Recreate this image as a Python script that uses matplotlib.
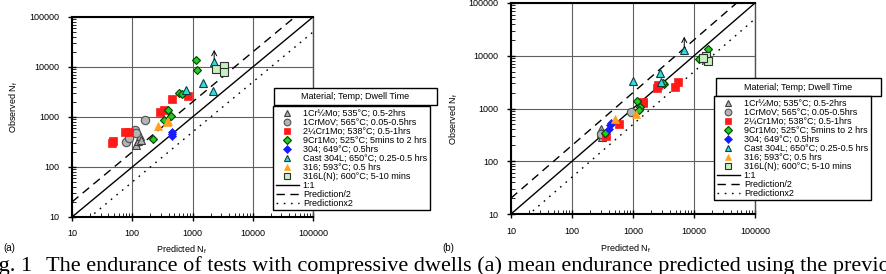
import numpy as np
import matplotlib
matplotlib.use("Agg")
import matplotlib.pyplot as plt
import matplotlib.ticker as ticker
from matplotlib.patches import Rectangle

plt.rcParams['font.family'] = ['Liberation Sans', 'DejaVu Sans']

# series labels / styles order
labels = ["1Cr\u00bdMo; 535\u00b0C; 0.5-2hrs",
          "1CrMoV; 565\u00b0C; 0.05-0.5hrs",
          "2\u00bcCr1Mo; 538\u00b0C; 0.5-1hrs",
          "9Cr1Mo; 525\u00b0C; 5mins to 2 hrs",
          "304; 649\u00b0C; 0.5hrs",
          "Cast 304L; 650\u00b0C; 0.25-0.5 hrs",
          "316; 593\u00b0C; 0.5 hrs",
          "316L(N); 600\u00b0C; 5-10 mins"]

# (a) mean endurance: predicted, observed
a_crmo_x = [115, 125, 132, 140]
a_crmo_y = [280, 335, 410, 340]
a_crmov_x = [78, 90, 112, 115, 162]
a_crmov_y = [320, 375, 560, 480, 860]
a_2cr_x = [46, 48, 76, 88, 290, 335, 455, 850]
a_2cr_y = [300, 330, 510, 490, 1260, 1400, 2330, 2600]
a_9cr_x = [223, 339, 385, 432, 586, 657, 1135, 1194]
a_9cr_y = [363, 885, 1400, 1063, 3020, 2884, 13600, 8850]
a_304_x = [450, 460, 455]
a_304_y = [490, 415, 450]
a_c304_x = [795, 1503, 2203, 2290]
a_c304_y = [3414, 4786, 3262, 12600]
a_316_x = [263, 380, 395]
a_316_y = [650, 794, 830]
a_316ln_x = [2500, 3300, 3300]
a_316ln_y = [9300, 10300, 8000]
a_arrow = (2290, 12600, 22000)

# (b)
b_crmo_x = [298, 307, 300]
b_crmo_y = [413, 288, 350]
b_crmov_x = [298, 927]
b_crmov_y = [333, 851]
b_2cr_x = [361, 597, 1440, 1480, 2470, 2570, 4890, 5400]
b_2cr_y = [296, 514, 1320, 1250, 2455, 2750, 2530, 3230]
b_9cr_x = [352, 1178, 1286, 1260, 3266, 3120, 12200, 17200]
b_9cr_y = [343, 1374, 1060, 920, 2917, 3000, 8650, 13700]
b_304_x = [415, 440, 400]
b_304_y = [480, 540, 413]
b_c304_x = [1000, 2805, 2880, 6920]
b_c304_y = [3375, 4690, 3220, 12600]
b_316_x = [507, 1120]
b_316_y = [638, 794]
b_316ln_x = [15700, 16700, 14200]
b_316ln_y = [10000, 7800, 9000]
b_arrow = (6920, 12600, 23000)

styles = [dict(marker='^', ms=5.5, mfc='#b0b0b0', mec='#404040', mew=0.8),
          dict(marker='o', ms=6, mfc='#b4b4b4', mec='#505050', mew=0.8),
          dict(marker='s', ms=5.5, mfc='#ff1a1a', mec='#ff1a1a', mew=0.5),
          dict(marker='D', ms=4.5, mfc='#22cc22', mec='#004000', mew=0.8),
          dict(marker='D', ms=4.5, mfc='#1a1aff', mec='#1a1aff', mew=0.5),
          dict(marker='^', ms=6, mfc='#33dddd', mec='#104040', mew=0.8),
          dict(marker='^', ms=6, mfc='#ffa020', mec='#ffa020', mew=0.5),
          dict(marker='s', ms=6, mfc='#c8f0c0', mec='#303030', mew=0.8)]

fig = plt.figure(figsize=(8.86, 2.74), dpi=100)


def panel(rect, series, arrow, lab, leg_title_box, leg_anchor, xlabel_xy, ylabel_xy):
    ax = fig.add_axes(rect)
    ax.set_xscale('log')
    ax.set_yscale('log')
    ax.set_xlim(10, 100000)
    ax.set_ylim(10, 100000)
    ax.grid(True, which='major', color='#606060', lw=0.8)
    ax.set_axisbelow(True)
    line = np.array([10, 100000])
    ax.plot(line, line, color='black', lw=1.0, label='1:1')
    ax.plot(line, line * 2, color='black', lw=1.0, dashes=(6, 4), label='Prediction/2')
    ax.plot(line, line / 2, color='black', lw=1.0, dashes=(1.2, 4), label='Predictionx2')
    handles = []
    for (xs, ys), lbl, st in zip(series, labels, styles):
        h, = ax.plot(xs, ys, ls='none', label=lbl, zorder=3, **st)
        handles.append(h)
    # run-out arrow
    ax.annotate('', xy=(arrow[0], arrow[2]), xytext=(arrow[0], arrow[1] * 1.12),
                arrowprops=dict(arrowstyle='->,head_length=0.35,head_width=0.18',
                                color='black', lw=0.7, shrinkA=0, shrinkB=0))
    fmt = ticker.FuncFormatter(lambda v, p: '%d' % v)
    ax.xaxis.set_major_formatter(fmt)
    ax.yaxis.set_major_formatter(fmt)
    ax.xaxis.set_minor_formatter(ticker.NullFormatter())
    ax.yaxis.set_minor_formatter(ticker.NullFormatter())
    ax.tick_params(which='major', direction='inout', length=6, width=1.0,
                   labelsize=6.5, pad=6)
    ax.tick_params(which='minor', direction='in', length=3, width=0.6)
    for s in ['left', 'bottom', 'top']:
        ax.spines[s].set_linewidth(1.5)
    ax.spines['right'].set_linewidth(1.0)
    ax.spines['right'].set_color('#505050')
    ax.set_xlabel('Predicted N$_\\mathregular{f}$', fontsize=6.5)
    ax.set_ylabel('Observed N$_\\mathregular{f}$', fontsize=6.5)
    ax.xaxis.set_label_coords(*xlabel_xy)
    ax.yaxis.set_label_coords(*ylabel_xy)
    lines = ax.get_lines()[:3]
    leg = fig.legend(handles + lines, [h.get_label() for h in handles + lines],
                     loc='upper left', bbox_to_anchor=leg_anchor, fontsize=6.5,
                     frameon=True, fancybox=False, edgecolor='black',
                     framealpha=1, labelspacing=0.0, handlelength=2.6,
                     handletextpad=0.4, borderpad=0.3, borderaxespad=0,
                     markerscale=0.8)
    leg.get_frame().set_linewidth(1.0)
    x0, y0, w, h = leg_title_box
    fig.patches.append(Rectangle((x0, y0), w, h, transform=fig.transFigure,
                                 fill=True, facecolor='white', edgecolor='black', lw=1.0))
    fig.text(x0 + w / 2, y0 + h / 2, 'Material; Temp; Dwell Time', fontsize=6.5,
             ha='center', va='center')
    fig.text(rect[0] - 0.077, 1 - 248 / 274.0, lab, fontsize=7, ha='left', va='center')
    return ax


W, H = 886.0, 274.0
series_a = [(a_crmo_x, a_crmo_y), (a_crmov_x, a_crmov_y), (a_2cr_x, a_2cr_y),
            (a_9cr_x, a_9cr_y), (a_304_x, a_304_y), (a_c304_x, a_c304_y),
            (a_316_x, a_316_y), (a_316ln_x, a_316ln_y)]
series_b = [(b_crmo_x, b_crmo_y), (b_crmov_x, b_crmov_y), (b_2cr_x, b_2cr_y),
            (b_9cr_x, b_9cr_y), (b_304_x, b_304_y), (b_c304_x, b_c304_y),
            (b_316_x, b_316_y), (b_316ln_x, b_316ln_y)]

panel([72 / W, 1 - 217 / H, 241 / W, 200 / H], series_a, a_arrow, '(a)',
      (274 / W, 1 - 105 / H, 163 / W, 17 / H), (273 / W, 1 - 106 / H),
      (0.455, -0.13), (-0.215, 0.55))
panel([511 / W, 1 - 214 / H, 244 / W, 211 / H], series_b, b_arrow, '(b)',
      (716 / W, 1 - 96 / H, 165 / W, 18 / H), (714 / W, 1 - 96 / H),
      (0.47, -0.137), (-0.21, 0.45))

serif = ['Liberation Serif', 'DejaVu Serif']
fig.text(32 / W, 3 / H, 'Fig. 1', fontsize=16, family=serif, ha='right', va='baseline')
fig.text(46 / W, 3 / H,
         'The endurance of tests with compressive dwells (a) mean endurance predicted using the previous',
         fontsize=16, family=serif, ha='left', va='baseline')

fig.savefig('out.png', dpi=100)
